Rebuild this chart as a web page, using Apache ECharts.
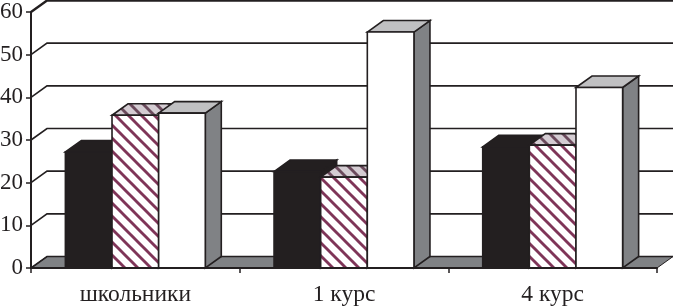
<!DOCTYPE html>
<html><head><meta charset="utf-8">
<script src="https://cdn.jsdelivr.net/npm/echarts@6/dist/echarts.min.js"></script>
<style>html,body{margin:0;padding:0;background:#fff}#c{width:674px;height:306px}</style>
</head><body><div id="c"></div>
<script>
const categories = ['школьники', '1 курс', '4 курс'];
const seriesA = [27.2, 22.6, 28.4];
const seriesB = [35.8, 21.3, 28.8];
const seriesC = [36.3, 55.3, 42.3];
const yTicks = [0, 10, 20, 30, 40, 50, 60];

const INK = '#231f20', SIDE = '#808285', TOPC = '#c0c0c2', DX = 16, DY = 11.5, BAR = 0.2235;

function stripes(bg, line) {
  const s = 13, c = document.createElement('canvas');
  c.width = s; c.height = s;
  const g = c.getContext('2d');
  g.fillStyle = bg; g.fillRect(0, 0, s, s);
  g.strokeStyle = line; g.lineWidth = 2.9;
  for (let k = -s; k <= s; k += s) {
    g.beginPath(); g.moveTo(k - 2, -2); g.lineTo(k + s + 2, s + 2); g.stroke();
  }
  return c;
}
const frontPat = { image: stripes('#ffffff', '#7f3558'), repeat: 'repeat' };
const topPat = { image: stripes('#d4ccd2', '#6b4a5c'), repeat: 'repeat' };

function barRenderer(offset, front, top, side) {
  return function (params, api) {
    const i = api.value(0), v = api.value(1);
    const band = api.size([1, 0])[0], w = band * BAR;
    const c = api.coord([i, v]), b = api.coord([i, 0]);
    const x0 = c[0] + (offset - 1.5) * w, x1 = x0 + w, y = c[1], yb = b[1];
    const st = { stroke: INK, lineWidth: 1.6, lineJoin: 'miter' };
    const poly = (points, fill) => ({ type: 'polygon', shape: { points }, style: Object.assign({ fill }, st) });
    return { type: 'group', children: [
      poly([[x1, y], [x1 + DX, y - DY], [x1 + DX, yb - DY], [x1, yb]], side),
      poly([[x0, y], [x0 + DX, y - DY], [x1 + DX, y - DY], [x1, y]], top),
      poly([[x0, y], [x1, y], [x1, yb], [x0, yb]], front)
    ] };
  };
}

function wallRenderer(params, api) {
  const v = api.value(0);
  const p = api.coord([0, v]);
  const band = api.size([1, 0])[0];
  const left = p[0] - band / 2, right = left + band * categories.length;
  const y = p[1];
  const ls = { stroke: INK, lineWidth: v === 60 ? 2.4 : 1.6, fill: 'none' };
  const children = [
    { type: 'polyline', shape: { points: [[left, y], [left + DX, y - DY], [right + DX, y - DY]] }, style: ls }
  ];
  if (v === 0) {
    children.unshift({ type: 'polygon', shape: { points: [[left, y], [left + DX, y - DY], [right + DX, y - DY], [right, y]] },
      style: { fill: SIDE, stroke: INK, lineWidth: 1 } });
  }
  return { type: 'group', children };
}

const chart = echarts.init(document.getElementById('c'), null, { renderer: 'canvas' });
const mk = (arr, off, f, t, s) => ({
  type: 'custom', renderItem: barRenderer(off, f, t, s), clip: false, z: 3 + off,
  encode: { x: 0, y: 1 }, data: arr.map((v, i) => [i, v])
});
chart.setOption({
  animation: false,
  backgroundColor: '#fff',
  grid: { left: 31, right: 17, top: 12, bottom: 38, outerBoundsMode: 'none' },
  xAxis: {
    type: 'category', data: categories, boundaryGap: true,
    axisLine: { show: true, lineStyle: { color: INK, width: 2 } },
    axisTick: { show: true, alignWithLabel: false, length: 5, lineStyle: { color: INK, width: 1.5 } },
    axisLabel: { color: INK, fontFamily: 'Liberation Serif', fontSize: 23.5, margin: 15, interval: 0 },
    splitLine: { show: false }, z: 10
  },
  yAxis: {
    type: 'value', min: 0, max: 60, interval: 10,
    axisLine: { show: true, lineStyle: { color: INK, width: 2 } },
    axisTick: { show: true, length: 5, lineStyle: { color: INK, width: 1.5 } },
    axisLabel: { color: INK, fontFamily: 'Liberation Serif', fontSize: 23, margin: 8, padding: [4, 0, 0, 0] },
    splitLine: { show: false }, z: 10
  },
  series: [
    { type: 'custom', renderItem: wallRenderer, clip: false, z: 1, encode: { y: 0 }, data: yTicks.map(v => [v]) },
    mk(seriesA, 0, INK, INK, INK),
    mk(seriesB, 1, frontPat, topPat, SIDE),
    mk(seriesC, 2, '#ffffff', TOPC, SIDE)
  ]
});
</script></body></html>
